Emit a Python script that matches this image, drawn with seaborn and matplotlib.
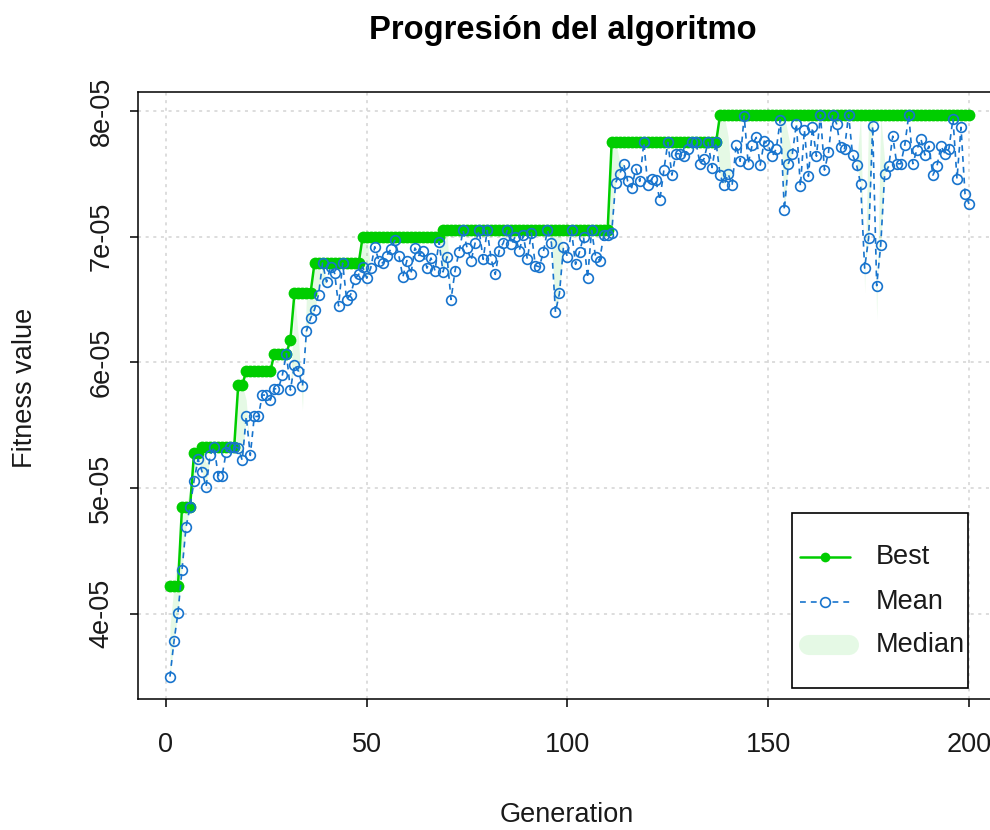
import numpy as np
import pandas as pd
import matplotlib
matplotlib.use("Agg")
import matplotlib.pyplot as plt
import seaborn as sns
from matplotlib.lines import Line2D
from matplotlib.patches import Rectangle

# ---------------- data (fitness values in units of 1e-05) ----------------
generations = list(range(1, 201))

best_fitness = ([4.22] * 3 + [4.85] * 3 + [5.28] * 2 + [5.33] * 9 + [5.82] * 2 +
                [5.93] * 7 + [6.07] * 4 + [6.18] * 1 + [6.55] * 5 + [6.79] * 12 +
                [7.00] * 20 + [7.05] * 42 + [7.75] * 27 + [7.97] * 63)

mean_fitness = [
    3.50, 3.78, 4.01, 4.35, 4.69, 4.85, 5.06, 5.23, 5.13, 5.01,
    5.26, 5.33, 5.10, 5.10, 5.29, 5.33, 5.33, 5.32, 5.22, 5.57,
    5.26, 5.57, 5.57, 5.74, 5.74, 5.70, 5.79, 5.79, 5.90, 6.07,
    5.78, 5.98, 5.93, 5.81, 6.25, 6.35, 6.42, 6.54, 6.79, 6.64,
    6.76, 6.71, 6.45, 6.79, 6.50, 6.54, 6.66, 6.70, 6.76, 6.67,
    6.75, 6.92, 6.81, 6.79, 6.85, 6.90, 6.97, 6.85, 6.68, 6.81,
    6.70, 6.91, 6.85, 6.89, 6.75, 6.83, 6.73, 6.96, 6.72, 6.84,
    6.50, 6.73, 6.88, 7.05, 6.91, 6.81, 6.95, 7.05, 6.82, 7.05,
    6.82, 6.70, 6.89, 6.95, 7.05, 6.94, 7.00, 6.89, 7.01, 6.82,
    7.03, 6.77, 6.76, 6.88, 7.05, 6.95, 6.40, 6.55, 6.92, 6.84,
    7.05, 6.78, 6.88, 7.00, 6.67, 7.05, 6.84, 6.81, 7.01, 7.01,
    7.03, 7.43, 7.50, 7.58, 7.44, 7.39, 7.54, 7.44, 7.75, 7.41,
    7.46, 7.45, 7.29, 7.53, 7.75, 7.49, 7.66, 7.66, 7.64, 7.70,
    7.75, 7.75, 7.58, 7.62, 7.75, 7.55, 7.75, 7.49, 7.41, 7.50,
    7.41, 7.73, 7.60, 7.96, 7.58, 7.73, 7.79, 7.57, 7.76, 7.73,
    7.64, 7.70, 7.93, 7.21, 7.58, 7.66, 7.90, 7.40, 7.85, 7.48,
    7.87, 7.64, 7.97, 7.53, 7.67, 7.97, 7.90, 7.71, 7.70, 7.97,
    7.65, 7.57, 7.42, 6.75, 6.99, 7.88, 6.61, 6.93, 7.50, 7.56,
    7.80, 7.58, 7.58, 7.73, 7.97, 7.58, 7.69, 7.78, 7.65, 7.72,
    7.49, 7.56, 7.72, 7.66, 7.70, 7.94, 7.46, 7.87, 7.34, 7.26,
]

# median equals the mean except at these generations (read from the shading)
median_differs = {
    1: 3.90, 2: 4.22, 3: 4.50, 4: 4.85, 5: 4.85, 6: 5.00, 7: 5.28, 8: 5.28,
    9: 5.33, 10: 5.20, 18: 5.82, 19: 5.82, 20: 5.70,
    32: 6.55, 33: 6.20, 34: 5.62, 35: 6.55, 36: 6.55, 37: 6.79, 38: 6.79, 39: 6.60,
    49: 7.00, 50: 7.00, 69: 7.05, 70: 7.05,
    96: 7.05, 97: 7.05, 98: 7.05,
    111: 7.75, 112: 7.75, 113: 7.60,
    138: 7.97, 139: 7.97, 140: 7.80,
    154: 7.97, 155: 7.80,
    173: 7.97, 174: 6.55, 175: 7.97, 176: 7.97, 177: 6.34, 178: 7.97, 179: 7.60,
}
median_fitness = [median_differs.get(g, m) for g, m in zip(generations, mean_fitness)]

x_ticks = [0, 50, 100, 150, 200]
y_ticks = [4, 5, 6, 7, 8]
y_tick_labels = ["4e-05", "5e-05", "6e-05", "7e-05", "8e-05"]

df = pd.DataFrame({"Generation": generations, "Best": best_fitness,
                   "Mean": mean_fitness, "Median": median_fitness})

# ---------------- style ----------------
sns.set_style("white")
plt.rcParams["font.family"] = ["Liberation Sans", "DejaVu Sans"]

GREEN = "#00CD00"
BLUE = "#1874CD"
FS = 19.5

W, H = 990, 830
fig = plt.figure(figsize=(W / 100, H / 100), dpi=100)


def fx(px):
    return px / W


def fy(py):
    return 1 - py / H


ax = fig.add_axes([fx(138), fy(699), fx(1001) - fx(138), fy(92) - fy(699)])

ax.fill_between(df["Generation"], df["Mean"], df["Median"], color=GREEN,
                alpha=0.1, linewidth=0, zorder=1)

sns.lineplot(data=df, x="Generation", y="Best", estimator=None, ax=ax,
             color=GREEN, linewidth=1.8, marker="o", markersize=8.5,
             markerfacecolor=GREEN, markeredgecolor=GREEN, markeredgewidth=0,
             zorder=3)
sns.lineplot(data=df, x="Generation", y="Mean", estimator=None, ax=ax,
             color=BLUE, linewidth=1.2, linestyle=(0, (3.5, 3.0)), marker="o",
             markersize=7, markerfacecolor="none", markeredgecolor=BLUE,
             markeredgewidth=1.2, zorder=4)

ax.set_xlim(-6.96, 207.96)
ax.set_ylim(3.322, 8.151)
ax.set_xticks(x_ticks)
ax.set_xticklabels([str(t) for t in x_ticks])
ax.set_yticks(y_ticks)
ax.set_yticklabels(y_tick_labels, rotation=90, va="center")
ax.set_xlabel("")
ax.set_ylabel("")

ax.grid(True, color="#D3D3D3", linestyle=(0, (2, 3)), linewidth=1.1)
ax.set_axisbelow(True)
for s in ax.spines.values():
    s.set_visible(True)
    s.set_color("black")
    s.set_linewidth(1.1)
ax.tick_params(axis="both", which="major", bottom=True, left=True,
               direction="out", length=6, width=1.1, color="black",
               labelsize=FS, labelcolor="#1a1a1a")
ax.tick_params(axis="x", pad=18)
ax.tick_params(axis="y", pad=11)

# titles / labels
fig.text(fx(563), fy(30), "Progresión del algoritmo", ha="center", va="center",
         fontsize=23.6, fontweight="bold", color="black")
fig.text(fx(567), fy(815), "Generation", ha="center", va="center",
         fontsize=FS, color="#1a1a1a")
fig.text(fx(25), fy(388), "Fitness value", ha="center", va="center",
         rotation=90, fontsize=FS, color="#1a1a1a")

# legend (R style box)
fig.add_artist(Rectangle((fx(792), fy(688)), fx(968) - fx(792), fy(513) - fy(688),
                         transform=fig.transFigure, facecolor="white",
                         edgecolor="black", linewidth=1.2, zorder=5))
rows = [557, 602, 645]
fig.add_artist(Line2D([fx(800), fx(850)], [fy(rows[0])] * 2, transform=fig.transFigure,
                      color=GREEN, linewidth=1.8, zorder=6))
fig.add_artist(Line2D([fx(825)], [fy(rows[0])], transform=fig.transFigure,
                      marker="o", markersize=7, color=GREEN, markeredgewidth=0, zorder=6))
fig.add_artist(Line2D([fx(800), fx(850)], [fy(rows[1])] * 2, transform=fig.transFigure,
                      color=BLUE, linewidth=1.2, linestyle=(0, (3.5, 3.0)), zorder=6))
fig.add_artist(Line2D([fx(825)], [fy(rows[1])], transform=fig.transFigure,
                      marker="o", markersize=7, markerfacecolor="white",
                      markeredgecolor=BLUE, markeredgewidth=1.2, zorder=6))
fig.add_artist(Line2D([fx(809), fx(849)], [fy(rows[2])] * 2, transform=fig.transFigure,
                      color=GREEN, alpha=0.1, linewidth=14.5, solid_capstyle="round",
                      zorder=6))
for r, lab in zip(rows, ["Best", "Mean", "Median"]):
    fig.text(fx(876), fy(r), lab, ha="left", va="center", fontsize=FS,
             color="#1a1a1a", zorder=7)

fig.savefig("out.png", dpi=100)
